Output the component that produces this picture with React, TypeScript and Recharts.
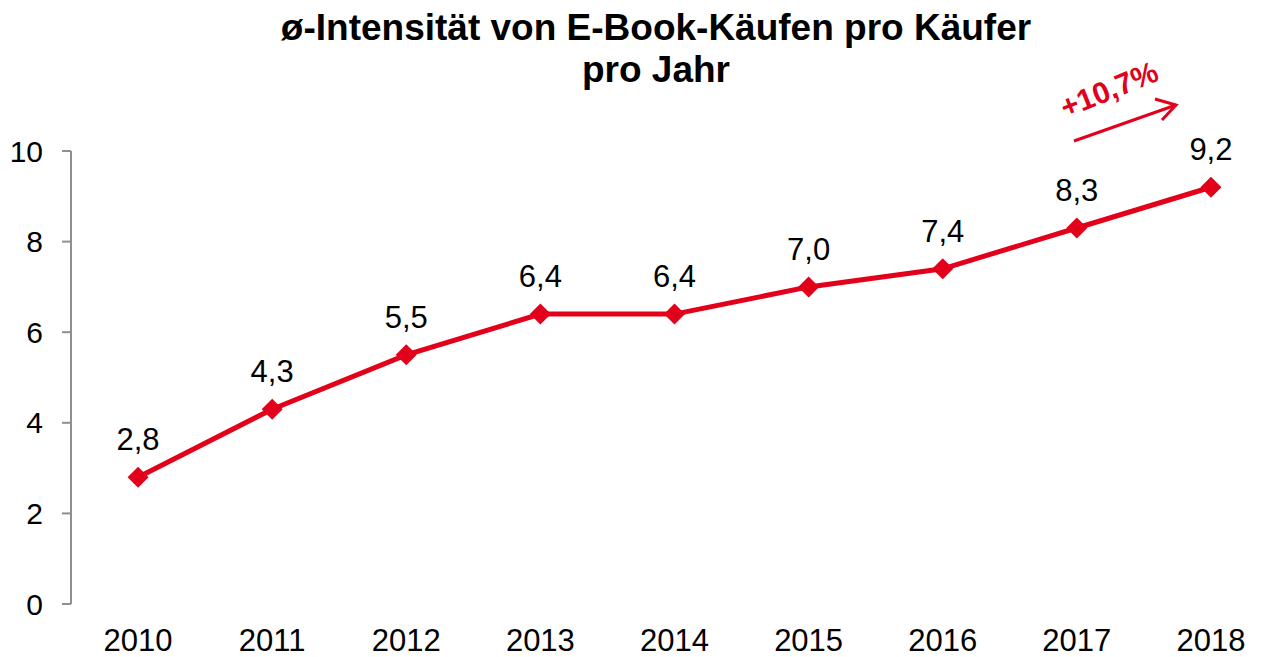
import React from 'react';
import { LineChart, Line, XAxis, YAxis, Customized } from 'recharts';

const years = ['2010', '2011', '2012', '2013', '2014', '2015', '2016', '2017', '2018'];
const intensity = [2.8, 4.3, 5.5, 6.4, 6.4, 7.0, 7.4, 8.3, 9.2];
const yTicks = [0, 2, 4, 6, 8, 10];
const titleLines = ['ø-Intensität von E-Book-Käufen pro Käufer', 'pro Jahr'];
const growthLabel = '+10,7%';

const RED = '#E2001A';
const GRAY = '#8f8f8f';
const FONT = '"Liberation Sans", Arial, sans-serif';

const data = years.map((y, i) => ({ i, year: y, v: intensity[i] }));
const labelTicks = years.map((_, i) => i);
const boundaryTicks = [...years.map((_, i) => i - 0.5), years.length - 0.5];

const Diamond = (props: any) => {
  const { cx, cy } = props;
  if (cx == null || cy == null) return null;
  const r = 10.5;
  return (
    <polygon
      key={`d-${cx}`}
      points={`${cx},${cy - r} ${cx + r},${cy} ${cx},${cy + r} ${cx - r},${cy}`}
      fill={RED}
    />
  );
};

const ValueLabel = (props: any) => {
  const { x, y, value } = props;
  return (
    <text
      x={x}
      y={y - 27}
      textAnchor="middle"
      fontSize={31}
      fontFamily={FONT}
      fill="#000"
    >
      {Number(value).toFixed(1).replace('.', ',')}
    </text>
  );
};

const Annotations = () => (
  <g>
    <text x={656} y={40} textAnchor="middle" fontSize={37} fontWeight="bold" fontFamily={FONT} fill="#000">
      {titleLines[0]}
    </text>
    <text x={656} y={82} textAnchor="middle" fontSize={37} fontWeight="bold" fontFamily={FONT} fill="#000">
      {titleLines[1]}
    </text>
    <text
      x={1113}
      y={99}
      textAnchor="middle"
      fontSize={30}
      fontWeight="bold"
      fontFamily={FONT}
      fill={RED}
      transform="rotate(-22 1113 99)"
    >
      {growthLabel}
    </text>
    <line x1={1074} y1={141} x2={1176} y2={105} stroke={RED} strokeWidth={3} />
    <polyline
      points="1155,99 1176,105 1162,120"
      fill="none"
      stroke={RED}
      strokeWidth={3}
    />
  </g>
);

export default function App() {
  return (
    <div style={{ position: 'absolute', left: 0, top: 0, width: 1266, height: 657, overflow: 'hidden', background: '#fff' }}>
      <LineChart
        width={1280}
        height={657}
        data={data}
        margin={{ top: 151, right: 2, bottom: 8, left: 0 }}
      >
        <XAxis
          xAxisId="tk"
          type="number"
          dataKey="i"
          domain={[-0.5, 8.5]}
          ticks={boundaryTicks}
          interval={0}
          tick={false}
          tickSize={9}
          height={0}
          axisLine={{ stroke: GRAY, strokeWidth: 2 }}
          tickLine={{ stroke: GRAY, strokeWidth: 2 }}
        />
        <XAxis
          xAxisId="lbl"
          type="number"
          dataKey="i"
          domain={[-0.5, 8.5]}
          ticks={labelTicks}
          interval={0}
          tickFormatter={(v: number) => years[v]}
          tick={{ fontSize: 31, fontFamily: FONT, fill: '#000' }}
          tickSize={0}
          tickMargin={25}
          height={45}
          axisLine={false}
          tickLine={false}
        />
        <YAxis
          domain={[0, 10]}
          ticks={yTicks}
          interval={0}
          width={71}
          tickSize={9}
          tickMargin={19}
          tick={{ fontSize: 30, fontFamily: FONT, fill: '#000' }}
          axisLine={{ stroke: GRAY, strokeWidth: 2 }}
          tickLine={{ stroke: GRAY, strokeWidth: 2 }}
        />
        <Line
          xAxisId="lbl"
          dataKey="v"
          stroke={RED}
          strokeWidth={5}
          dot={Diamond}
          activeDot={false}
          isAnimationActive={false}
          label={ValueLabel}
        />
        <Customized component={Annotations} />
      </LineChart>
    </div>
  );
}
